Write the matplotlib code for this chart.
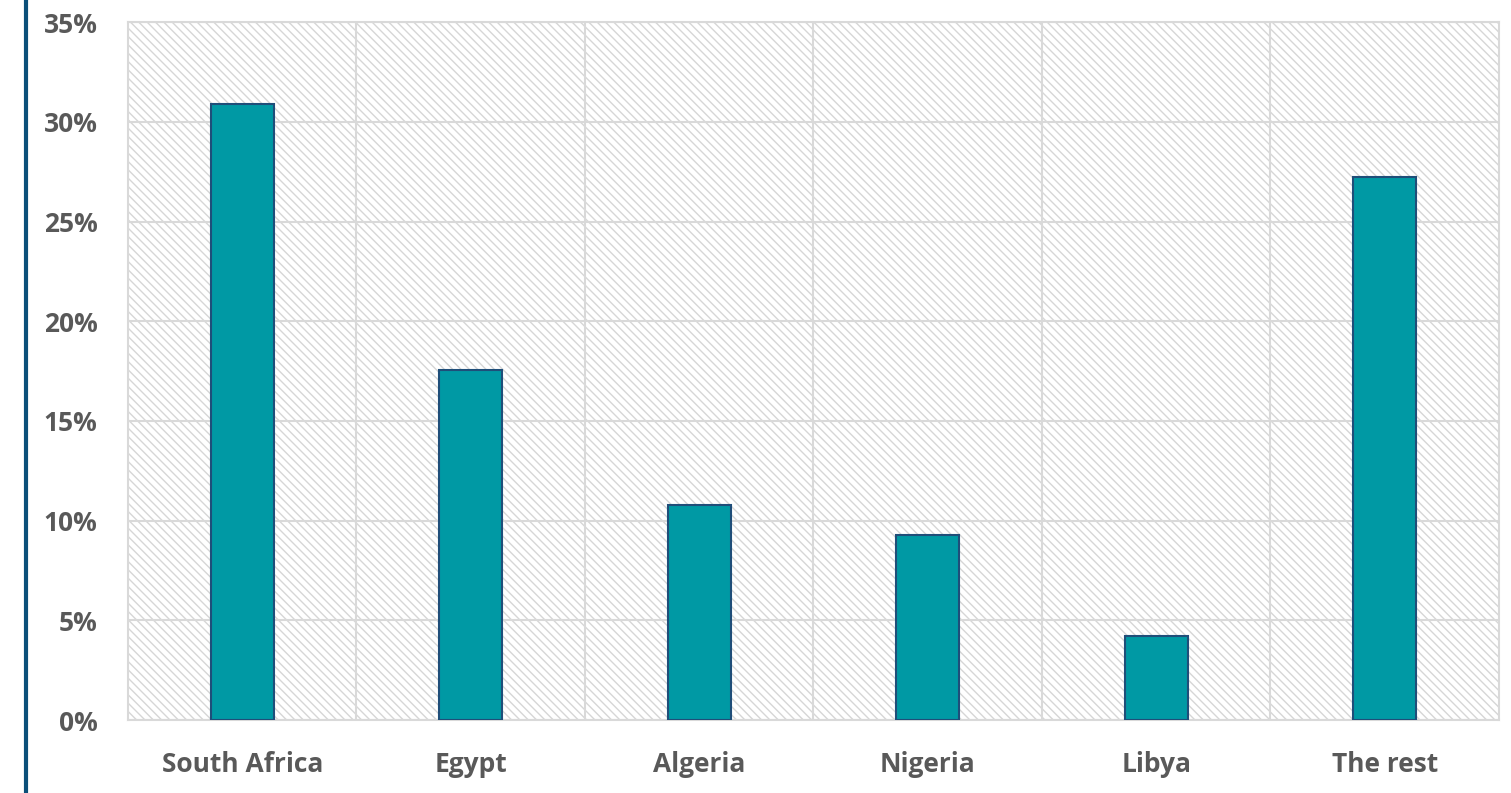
import matplotlib.pyplot as plt
from matplotlib.patches import Rectangle
from matplotlib.lines import Line2D
from matplotlib.ticker import FuncFormatter, MultipleLocator
import numpy as np

countries = ["South Africa", "Egypt", "Algeria", "Nigeria", "Libya", "The rest"]
shares = [30.9, 17.55, 10.8, 9.3, 4.2, 27.25]

bar_color = "#0099A4"
edge_color = "#1F4E79"
grid_color = "#D9D9D9"
text_color = "#595959"

plt.rcParams["font.family"] = ["Open Sans", "DejaVu Sans"]
plt.rcParams["hatch.linewidth"] = 1.0

fig = plt.figure(figsize=(15.11, 7.93), dpi=100)
ax = fig.add_axes([0.0847, 0.092, 0.9073, 0.880])

# diagonal striped background of the plot area
ax.add_patch(Rectangle((0, 0), 1, 1, transform=ax.transAxes, facecolor="white",
                       edgecolor="#D6D6D6", linewidth=0, hatch="\\\\\\\\", zorder=0))

x = np.arange(len(countries))
ax.bar(x, shares, width=0.276, color=bar_color, edgecolor=edge_color,
       linewidth=1.5, zorder=3)

ax.set_xlim(-0.5, len(countries) - 0.5)
ax.set_ylim(0, 35)
ax.yaxis.set_major_locator(MultipleLocator(5))
ax.yaxis.set_major_formatter(FuncFormatter(lambda v, p: f"{v:.0f}%"))

# gridlines between categories and at each 5%
for b in np.arange(0.5, len(countries) - 0.5, 1):
    ax.axvline(b, color=grid_color, linewidth=1.5, zorder=1)
ax.grid(axis="y", color=grid_color, linewidth=1.5, zorder=1)
ax.set_axisbelow(True)

for s in ax.spines.values():
    s.set_color(grid_color)
    s.set_linewidth(1.5)

ax.set_xticks(x)
ax.set_xticklabels(countries)
ax.tick_params(axis="both", length=0, labelsize=19, colors=text_color)
ax.tick_params(axis="x", pad=22)
ax.tick_params(axis="y", pad=22)
for lbl in ax.get_xticklabels() + ax.get_yticklabels():
    lbl.set_fontweight("bold")

# dark accent bar on the left edge
fig.add_artist(Line2D([0.0172, 0.0172], [0, 1], transform=fig.transFigure,
                      color="#0B4F79", linewidth=3))

fig.savefig("out.png", dpi=100)
